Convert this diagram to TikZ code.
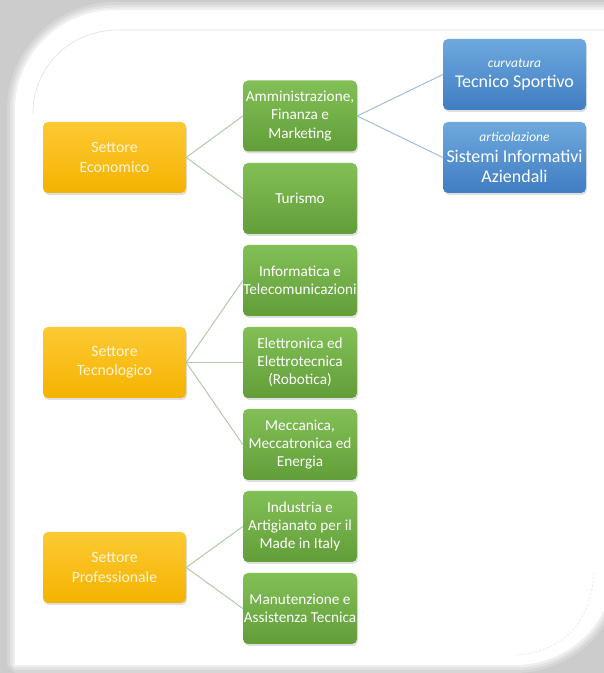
\documentclass[tikz,border=0pt]{standalone}
\usepackage{fontspec}
\setmainfont{Carlito}
\usepackage{tikz}
\usetikzlibrary{shadows}

\begin{document}
\begin{tikzpicture}[line join=bevel,
  sector/.style={rounded corners=5bp,minimum width=143bp,minimum height=71bp,inner sep=1bp,align=center,
    top color=sectortop,bottom color=sectorbot,text=sectortext,font=\fontsize{15.8}{19.5}\selectfont,
    drop shadow={shadow xshift=1bp,shadow yshift=-2bp,opacity=0.25}},
  course/.style={rounded corners=5bp,minimum width=114bp,minimum height=71bp,inner sep=0bp,align=center,
    top color=coursetop,bottom color=coursebot,text=white,font=\fontsize{15.3}{18.3}\selectfont,
    drop shadow={shadow xshift=1bp,shadow yshift=-2bp,opacity=0.25}},
  option/.style={rounded corners=5bp,minimum width=143bp,minimum height=71bp,inner sep=0bp,align=center,
    top color=optiontop,bottom color=optionbot,text=white,font=\fontsize{18}{20.5}\selectfont,
    drop shadow={shadow xshift=1bp,shadow yshift=-2bp,opacity=0.25}},
  link/.style={draw=linkgreen,line width=1bp},
  bluelink/.style={draw=linkblue,line width=1bp}]
%%
\definecolor{sectortop}{rgb}{0.99,0.79,0.2}
\definecolor{sectorbot}{rgb}{0.96,0.70,0.0}
\definecolor{sectortext}{rgb}{1.0,0.96,0.84}
\definecolor{coursetop}{rgb}{0.51,0.75,0.34}
\definecolor{coursebot}{rgb}{0.38,0.62,0.22}
\definecolor{optiontop}{rgb}{0.43,0.66,0.87}
\definecolor{optionbot}{rgb}{0.25,0.49,0.76}
\definecolor{linkgreen}{rgb}{0.70,0.80,0.65}
\definecolor{linkblue}{rgb}{0.64,0.74,0.85}
  \path[use as bounding box] (0bp,0bp) rectangle (604bp,673bp);
  \clip (0bp,0bp) rectangle (604bp,673bp);
  % frame
  \fill[black!20] (0bp,0bp) rectangle (604bp,673bp);
  \foreach \w/\o in {16/0.2,10/0.3,5/0.45}
    \draw[white,line width=\w bp,opacity=\o] (15bp,8bp) -- (15bp,563bp) .. controls (15bp,618bp) and (60bp,663bp) .. (115bp,663bp) -- (615bp,663bp) -- (615bp,108bp) .. controls (615bp,53bp) and (570bp,8bp) .. (515bp,8bp) -- cycle;
  \fill[white] (15bp,8bp) -- (15bp,563bp) .. controls (15bp,618bp) and (60bp,663bp) .. (115bp,663bp) -- (615bp,663bp) -- (615bp,108bp) .. controls (615bp,53bp) and (570bp,8bp) .. (515bp,8bp) -- cycle;
  \draw[black!12,line width=0.6bp] (33bp,560bp) .. controls (33bp,607bp) and (71bp,643bp) .. (118bp,643bp) -- (604bp,643bp);
  \draw[black!10,line width=0.6bp,dash pattern=on 2bp off 2bp] (594bp,100bp) .. controls (590bp,50bp) and (565bp,22bp) .. (515bp,18bp);
  % sectors
  \node (economico) at (114.5bp,515.5bp) [sector] {Settore\\Economico};
  \node (tecnologico) at (114.5bp,310.5bp) [sector] {Settore\\Tecnologico};
  \node (professionale) at (114.5bp,105.5bp) [sector] {Settore\\Professionale};
  % courses
  \node (afm) at (300bp,557bp) [course] {Amministrazione,\\Finanza e\\Marketing};
  \node (turismo) at (300bp,474.5bp) [course] {Turismo};
  \node (informatica) at (300bp,392.5bp) [course] {Informatica e\\Telecomunicazioni};
  \node (elettronica) at (300bp,310.5bp) [course] {Elettronica ed\\Elettrotecnica\\(Robotica)};
  \node (meccanica) at (300bp,228.5bp) [course] {Meccanica,\\Meccatronica ed\\Energia};
  \node (industria) at (300bp,146.5bp) [course] {Industria e\\Artigianato per il\\Made in Italy};
  \node (manutenzione) at (300bp,64.5bp) [course] {Manutenzione e\\Assistenza Tecnica};
  % options
  \node (sportivo) at (514.5bp,598.5bp) [option] {{\fontsize{13.5}{15}\selectfont\itshape curvatura}\\Tecnico Sportivo};
  \node (sia) at (514.5bp,515.5bp) [option] {{\fontsize{13.5}{15}\selectfont\itshape articolazione}\\Sistemi Informativi\\Aziendali};
  % links
  \draw [link] (economico.east) -- (afm.west);
  \draw [link] (economico.east) -- (turismo.west);
  \draw [link] (tecnologico.east) -- (informatica.west);
  \draw [link] (tecnologico.east) -- (elettronica.west);
  \draw [link] (tecnologico.east) -- (meccanica.west);
  \draw [link] (professionale.east) -- (industria.west);
  \draw [link] (professionale.east) -- (manutenzione.west);
  \draw [bluelink] (afm.east) -- (sportivo.west);
  \draw [bluelink] (afm.east) -- (sia.west);
%
\end{tikzpicture}
\end{document}
